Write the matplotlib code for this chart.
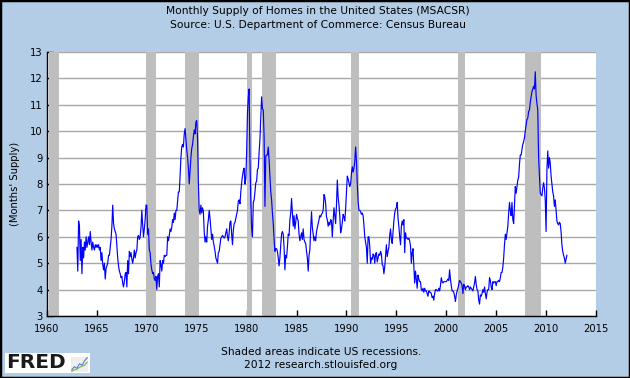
import matplotlib
matplotlib.use('Agg')
import matplotlib.pyplot as plt
from matplotlib.patches import Rectangle

# monthly supply, one row per year, starting Jan 1963
start_year = 1963
supply = [
    [5.6, 4.7, 6.6, 6.4, 5.1, 5.9, 4.6, 5.6, 5.2, 5.8, 5.5, 6.0],      # 1963
    [5.6, 5.8, 6.0, 5.7, 6.2, 5.8, 5.5, 5.8, 5.6, 5.5, 5.7, 5.6],      # 1964
    [5.7, 5.6, 5.7, 5.5, 5.6, 5.1, 5.4, 4.95, 4.75, 5.0, 4.4, 4.8],    # 1965
    [4.9, 5.0, 5.3, 5.3, 5.6, 5.9, 6.4, 7.2, 6.5, 6.3, 6.2, 6.1],      # 1966
    [5.65, 5.2, 4.9, 4.7, 4.6, 4.45, 4.5, 4.25, 4.1, 4.3, 4.6, 4.65],  # 1967
    [4.1, 5.1, 4.6, 5.45, 5.25, 5.4, 5.15, 5.0, 5.2, 5.5, 5.2, 5.4],   # 1968
    [5.5, 6.0, 6.05, 5.9, 6.0, 6.35, 7.0, 6.45, 6.0, 6.3, 6.65, 7.2],  # 1969
    [7.2, 6.1, 6.3, 5.5, 5.4, 4.95, 4.75, 4.6, 4.65, 4.4, 4.35, 4.5],  # 1970
    [4.0, 4.5, 4.6, 4.1, 5.1, 4.95, 4.7, 5.1, 5.0, 5.3, 5.25, 5.3],    # 1971
    [5.3, 6.0, 5.85, 6.05, 6.3, 6.2, 6.35, 6.65, 6.55, 6.9, 6.65, 7.0],  # 1972
    [7.0, 7.35, 7.7, 7.7, 8.3, 9.0, 9.4, 9.5, 9.4, 9.9, 10.1, 9.7],    # 1973
    [9.3, 9.0, 8.6, 8.0, 8.5, 9.0, 9.35, 9.5, 9.8, 10.05, 9.9, 10.35],  # 1974
    [10.4, 9.7, 8.0, 7.0, 6.85, 7.2, 6.9, 7.1, 6.95, 6.2, 5.8, 6.0],   # 1975
    [5.8, 6.4, 6.65, 7.0, 6.7, 6.3, 5.9, 6.1, 5.8, 5.65, 5.45, 5.2],   # 1976
    [5.1, 5.0, 5.4, 5.45, 5.7, 5.95, 6.0, 6.05, 6.0, 5.95, 6.0, 6.15],  # 1977
    [6.3, 6.0, 5.85, 6.15, 6.55, 6.6, 6.1, 5.7, 6.25, 6.5, 6.55, 6.7],  # 1978
    [6.85, 7.0, 7.35, 7.4, 7.25, 7.7, 8.05, 8.3, 8.5, 8.6, 8.0, 8.2],  # 1979
    [9.2, 10.7, 11.3, 11.6, 8.9, 7.4, 6.3, 6.0, 7.3, 7.4, 7.7, 8.05],  # 1980
    [8.1, 8.55, 8.6, 9.2, 9.7, 10.55, 11.3, 10.85, 10.8, 9.8, 7.15, 9.05],  # 1981
    [9.1, 9.1, 9.4, 8.9, 8.3, 7.7, 7.4, 6.9, 6.5, 5.9, 5.45, 5.55],    # 1982
    [5.55, 5.45, 5.2, 4.9, 5.2, 5.7, 6.1, 6.2, 6.1, 5.6, 4.75, 5.3],   # 1983
    [5.2, 5.6, 6.1, 6.05, 6.65, 6.9, 7.45, 6.9, 6.4, 6.8, 6.3, 6.55],  # 1984
    [6.85, 6.7, 6.6, 6.1, 5.85, 6.0, 6.15, 5.9, 6.3, 5.9, 5.8, 5.75],  # 1985
    [5.45, 5.2, 4.7, 5.3, 5.5, 6.3, 6.95, 6.35, 6.1, 5.85, 6.0, 5.85],  # 1986
    [6.2, 6.35, 6.5, 6.65, 6.8, 6.75, 6.85, 6.9, 7.0, 7.6, 7.5, 7.25],  # 1987
    [6.75, 6.65, 6.4, 6.55, 6.45, 6.65, 6.6, 6.0, 6.6, 7.1, 6.8, 6.5],  # 1988
    [7.2, 8.15, 7.5, 7.2, 6.8, 6.15, 6.3, 6.55, 6.85, 6.75, 6.6, 7.05],  # 1989
    [7.7, 8.3, 8.2, 8.05, 7.9, 8.0, 8.4, 8.65, 8.45, 8.6, 8.85, 9.4],  # 1990
    [8.9, 8.0, 7.35, 7.0, 7.0, 6.95, 6.85, 6.9, 6.8, 6.45, 6.0, 5.8],  # 1991
    [5.6, 5.0, 6.0, 6.0, 5.65, 5.0, 5.2, 5.15, 5.35, 5.3, 5.0, 5.35],  # 1992
    [5.4, 5.05, 5.2, 5.35, 5.3, 5.45, 5.35, 4.95, 4.9, 4.6, 4.85, 5.3],  # 1993
    [5.7, 5.25, 5.45, 5.6, 6.05, 6.3, 5.9, 5.75, 6.2, 6.6, 6.9, 7.05],  # 1994
    [7.1, 7.3, 6.7, 6.4, 6.0, 5.7, 6.4, 6.6, 6.45, 6.65, 5.4, 6.15],   # 1995
    [5.95, 5.95, 5.9, 5.95, 5.85, 5.65, 5.0, 5.4, 5.55, 4.9, 4.25, 4.7],  # 1996
    [4.4, 4.05, 4.55, 4.4, 4.3, 4.3, 4.0, 3.95, 4.05, 3.9, 4.05, 3.95],  # 1997
    [3.95, 3.85, 3.75, 3.95, 3.9, 3.9, 3.85, 3.7, 3.75, 3.6, 3.85, 4.0],  # 1998
    [4.0, 3.95, 3.95, 4.05, 3.95, 4.15, 4.45, 4.3, 4.25, 4.3, 4.3, 4.3],  # 1999
    [4.3, 4.35, 4.4, 4.35, 4.75, 4.4, 4.15, 3.95, 3.95, 3.9, 3.75, 3.55],  # 2000
    [3.8, 3.95, 4.05, 4.2, 4.35, 4.3, 4.25, 4.15, 3.85, 4.2, 4.15, 4.0],  # 2001
    [4.1, 4.1, 4.15, 4.1, 4.0, 4.1, 4.05, 4.0, 3.95, 4.1, 4.25, 4.5],   # 2002
    [4.2, 4.0, 3.95, 3.6, 3.45, 3.8, 3.75, 3.85, 4.0, 3.9, 4.1, 3.85],  # 2003
    [3.65, 3.9, 4.0, 4.0, 4.45, 4.35, 4.1, 4.0, 4.3, 4.25, 4.3, 4.3],  # 2004
    [4.15, 4.3, 4.3, 4.35, 4.3, 4.45, 4.65, 4.65, 4.85, 5.2, 5.7, 6.1],  # 2005
    [5.9, 6.15, 6.4, 6.9, 7.3, 7.0, 6.8, 7.3, 6.65, 6.5, 7.2, 7.9],    # 2006
    [7.65, 7.9, 8.15, 8.25, 8.75, 9.1, 9.1, 9.3, 9.5, 9.6, 9.75, 10.0],  # 2007
    [10.25, 10.45, 10.5, 10.75, 10.8, 11.1, 11.3, 11.5, 11.6, 11.7, 11.6, 12.25],  # 2008
    [11.35, 11.05, 10.8, 9.0, 8.3, 7.65, 7.6, 7.55, 7.85, 8.05, 7.85, 7.4],  # 2009
    [6.2, 8.55, 9.25, 8.6, 9.0, 8.8, 8.3, 8.0, 7.7, 7.55, 7.15, 7.4],  # 2010
    [7.0, 6.6, 6.5, 6.45, 6.55, 6.5, 6.2, 5.7, 5.45, 5.3, 5.2, 5.0],   # 2011
    [5.15, 5.3],                                                       # 2012
]

# NBER recessions (start, end) as year-month
recessions = [
    ('1960-04', '1961-02'), ('1969-12', '1970-11'), ('1973-11', '1975-03'),
    ('1980-01', '1980-07'), ('1981-07', '1982-11'), ('1990-07', '1991-03'),
    ('2001-03', '2001-11'), ('2007-12', '2009-06'),
]

x_ticks = list(range(1960, 2016, 5))
y_ticks = list(range(3, 14))

bg = '#B4CDE6'


def ym(s):
    y, m = s.split('-')
    return int(y) + (int(m) - 1) / 12.0


dates = []
values = []
for i, row in enumerate(supply):
    for m, v in enumerate(row):
        dates.append(start_year + i + m / 12.0)
        values.append(v)

fig = plt.figure(figsize=(6.3, 3.78), dpi=100, facecolor=bg)
border = Rectangle((0, 0), 1, 1, transform=fig.transFigure, fill=False,
                   edgecolor='black', linewidth=2.5, zorder=10)
fig.patches.append(border)

ax = fig.add_axes([47 / 630, 1 - 316 / 378, (596 - 47) / 630, (316 - 52) / 378])
ax.set_facecolor('white')

for s, e in recessions:
    ax.axvspan(ym(s), ym(e) + 1 / 12.0, color='#BEBEBE', lw=0, zorder=1)

ax.plot(dates, values, color='#0000FF', lw=0.85, zorder=3)

ax.set_xlim(1960, 2015)
ax.set_ylim(3, 13)
ax.set_xticks(x_ticks)
ax.set_yticks(y_ticks)
ax.yaxis.grid(True, color='#A8A8A8', lw=1.0, zorder=0)
ax.set_axisbelow(True)
for side in ['top', 'right']:
    ax.spines[side].set_visible(False)
for side in ['left', 'bottom']:
    ax.spines[side].set_color('black')
    ax.spines[side].set_linewidth(1.0)
    ax.spines[side].set_zorder(4)
ax.tick_params(axis='both', direction='in', length=4, width=1, labelsize=7.2,
               colors='black')
ax.tick_params(axis='x', pad=6)
ax.tick_params(axis='y', pad=3)
ax.set_ylabel("(Months' Supply)", fontsize=7.2)
ax.yaxis.set_label_coords(-27 / 549, 0.5)

fig.text(0.505, 1 - 11.5 / 378, 'Monthly Supply of Homes in the United States (MSACSR)',
         ha='center', va='center', fontsize=7.7)
fig.text(0.505, 1 - 25 / 378, 'Source: U.S. Department of Commerce: Census Bureau',
         ha='center', va='center', fontsize=7.7)
fig.text(321 / 630, 1 - 352 / 378, 'Shaded areas indicate US recessions.',
         ha='center', va='center', fontsize=7.7)
fig.text(321 / 630, 1 - 365 / 378, '2012 research.stlouisfed.org',
         ha='center', va='center', fontsize=7.7)

# FRED logo box
logo = fig.add_axes([5 / 630, 1 - 373 / 378, 85 / 630, 20 / 378])
logo.set_facecolor('white')
logo.set_xticks([])
logo.set_yticks([])
for sp in logo.spines.values():
    sp.set_visible(False)
logo.text(0.01, 0.5, 'FRED', transform=logo.transAxes, ha='left', va='center',
          fontsize=14.5, fontweight='bold', color='#1A1A1A')

icon = fig.add_axes([71 / 630, 1 - 372 / 378, 17 / 630, 15 / 378])
icon_blue = [1, 2, 1.5, 3, 2.5, 4, 5]
icon_green = [0.5, 1, 1.2, 1.8, 2.2, 2.5, 3.5]
icon.plot(icon_blue, color='#4F7FD0', lw=0.8)
icon.plot(icon_green, color='#7FB040', lw=0.8)
icon.set_facecolor('#EEEEEE')
icon.set_xticks([])
icon.set_yticks([])
for sp in icon.spines.values():
    sp.set_visible(False)

fig.savefig('out.png', dpi=100, facecolor=bg)
